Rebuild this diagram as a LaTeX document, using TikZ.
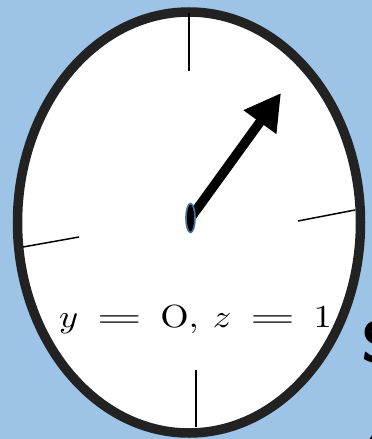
\documentclass[tikz,border=0pt]{standalone}
\usepackage{graphicx}
\usetikzlibrary{arrows.meta}
\definecolor{bgblue}{RGB}{157,195,230}
\definecolor{rimgray}{RGB}{34,34,34}
\definecolor{hubblue}{RGB}{65,113,156}
\newcommand{\wideeq}{\mathrel{\scalebox{1.6}[1]{$=$}}}
\tikzset{
  tick/.style={line width=1.5pt, black},
  hand/.style={line width=9.5pt, black, -{Triangle[length=36pt,width=38pt]}},
  clockface/.style={draw=rimgray, fill=white, line width=9.5pt},
}
\begin{document}
\begin{tikzpicture}[x=1pt,y=-1pt]
\useasboundingbox (0,0) rectangle (372,439);
\clip (0,0) rectangle (372,439);
\fill[bgblue] (0,0) rectangle (372,439);
% partial glyphs at right edge
\node[anchor=base west, inner sep=0pt, font=\fontsize{58}{60}\selectfont\sffamily\bfseries] (s1) at (361,362) {S};
\node[anchor=base west, inner sep=0pt, font=\fontsize{58}{60}\selectfont\sffamily\bfseries] (s2) at (364,470) {C};
% clock face
\draw[clockface] (189,222.5) ellipse [x radius=171.5, y radius=210.5];
% ticks
\coordinate (t1) at (189,13); \coordinate (t2) at (189,71);
\coordinate (b1) at (196,370); \coordinate (b2) at (196,427);
\coordinate (l1) at (23,247); \coordinate (l2) at (79,237);
\coordinate (r1) at (298,221); \coordinate (r2) at (355,210);
\draw[tick] (t1) -- (t2);
\draw[tick] (b1) -- (b2);
\draw[tick] (l1) -- (l2);
\draw[tick] (r1) -- (r2);
% hand
\coordinate (hs) at (192,216);
\coordinate (he) at (281,93);
\draw[hand] (hs) -- (he);
% hub
\draw[draw=hubblue, fill=black, line width=1.6pt] (190.5,218) ellipse [x radius=4.5, y radius=14.5];
% label
\node[anchor=base, inner sep=0pt] (lbl) at (195.5,327) {\scalebox{3.65}[3.2]{$y\mskip4mu\wideeq\mskip4mu\mathrm{O},\mskip4mu z\mskip4mu\wideeq\mskip4mu 1$}};
\end{tikzpicture}
\end{document}
